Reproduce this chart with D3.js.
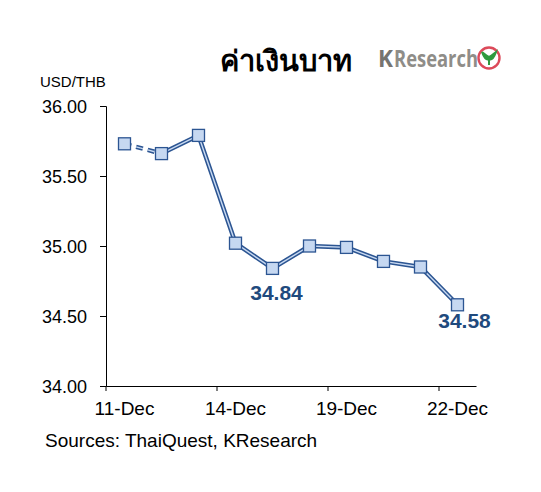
<!DOCTYPE html>
<html>
<head>
<meta charset="utf-8">
<script src="https://cdn.jsdelivr.net/npm/d3@7"></script>
<style>
  body { margin: 0; background: #fff; }
  text { font-family: Arial, "Liberation Sans", sans-serif; }
</style>
</head>
<body>
<div id="chart"></div>
<script>
// data
var dates = ["11-Dec", "12-Dec", "13-Dec", "14-Dec", "15-Dec", "18-Dec", "19-Dec", "20-Dec", "21-Dec", "22-Dec"];
var rates = [35.73, 35.66, 35.79, 35.02, 34.84, 35.00, 34.99, 34.89, 34.85, 34.58];
var xTickLabels = ["11-Dec", "14-Dec", "19-Dec", "22-Dec"];
var yTicks = [34.0, 34.5, 35.0, 35.5, 36.0];
var callouts = [{ i: 4, dx: 4, dy: 32 }, { i: 9, dx: 7, dy: 23 }];

var width = 541, height = 492;
var svg = d3.select("#chart").append("svg")
    .attr("width", width)
    .attr("height", height);

var x = d3.scaleBand().domain(dates).range([106, 476]).paddingInner(0).paddingOuter(0);
var y = d3.scaleLinear().domain([34, 36]).range([386, 106]);
var bw = x.bandwidth();

// title + logo
svg.append("text")
    .attr("x", 286).attr("y", 71)
    .attr("text-anchor", "middle")
    .style("font-family", "'Noto Sans', 'DejaVu Sans', sans-serif")
    .style("font-weight", "bold")
    .style("font-size", "29px")
    .text("ค่าเงินบาท");

var logo = svg.append("g").attr("transform", "translate(378,67)");
logo.append("text")
    .attr("x", 0).attr("y", 0)
    .style("font-family", "'Open Sans', Arial, sans-serif")
    .style("font-size", "24px")
    .style("font-weight", "bold")
    .style("fill", "#767470")
    .attr("textLength", 15)
    .attr("lengthAdjust", "spacingAndGlyphs")
    .text("K");
logo.append("text")
    .attr("x", 16).attr("y", 0)
    .style("font-family", "'Open Sans', Arial, sans-serif")
    .style("font-size", "24px")
    .style("font-weight", "bold")
    .style("fill", "#8f8d88")
    .attr("textLength", 84)
    .attr("lengthAdjust", "spacingAndGlyphs")
    .text("Research");
logo.append("circle").attr("cx", 111).attr("cy", -9).attr("r", 10.5)
    .attr("fill", "#fff").attr("stroke", "#dc4a5a").attr("stroke-width", 2.4);
logo.append("path")
    .attr("d", "M104,-15 Q107,-6 111,-8 Q115,-6 118,-15 Q113,-11 111,-10 Q109,-11 104,-15 M111,-9 L111,-2")
    .attr("fill", "#2e9a3e").attr("stroke", "#2e9a3e").attr("stroke-width", 2);

// unit label
svg.append("text")
    .attr("x", 40).attr("y", 87)
    .style("font-size", "15px")
    .text("USD/THB");

// y axis
var yAxis = svg.append("g")
    .attr("transform", "translate(106,0)")
    .call(d3.axisLeft(y).tickValues(yTicks).tickSize(6).tickPadding(13).tickFormat(d3.format(".2f")));
yAxis.selectAll("text").style("font-size", "18px").style("fill", "#000").attr("dy", "0.35em");
yAxis.selectAll("line, path").attr("stroke", "#000");

// x axis: ticks on category boundaries, labels on category centres
var xAxis = svg.append("g")
    .attr("transform", "translate(0,386)")
    .call(d3.axisBottom(x).tickValues(xTickLabels).tickSize(5).tickPadding(11).tickSizeOuter(0));
xAxis.selectAll(".tick line").attr("transform", "translate(" + (-bw / 2) + ",0)");
xAxis.selectAll("text").style("font-size", "19px").style("fill", "#000");
xAxis.selectAll("line, path").attr("stroke", "#000");

var pts = dates.map(function(d, i) { return { x: x(d) + bw / 2, y: y(rates[i]), v: rates[i] }; });
var line = d3.line().x(function(d) { return d.x; }).y(function(d) { return d.y; });

// first segment dashed, rest solid double line
var first = pts.slice(0, 2), rest = pts.slice(1);
svg.append("path").attr("d", line(first)).attr("fill", "none")
    .attr("stroke", "#2c5592").attr("stroke-width", 4.5).attr("stroke-dasharray", "7,5");
svg.append("path").attr("d", line(first)).attr("fill", "none")
    .attr("stroke", "#c9daf2").attr("stroke-width", 1.4).attr("stroke-dasharray", "7,5");
svg.append("path").attr("d", line(rest)).attr("fill", "none")
    .attr("stroke", "#2c5592").attr("stroke-width", 4.5).attr("stroke-linejoin", "round");
svg.append("path").attr("d", line(rest)).attr("fill", "none")
    .attr("stroke", "#c9daf2").attr("stroke-width", 1.4).attr("stroke-linejoin", "round");

// markers
svg.selectAll(".mk").data(pts).enter().append("rect")
    .attr("class", "mk")
    .attr("x", function(d) { return d.x - 6; })
    .attr("y", function(d) { return d.y - 6; })
    .attr("width", 12).attr("height", 12)
    .attr("fill", "#c6d8f1")
    .attr("stroke", "#2c5592")
    .attr("stroke-width", 1.3);

// value callouts
svg.selectAll(".lbl").data(callouts).enter().append("text")
    .attr("class", "lbl")
    .attr("x", function(d) { return pts[d.i].x + d.dx; })
    .attr("y", function(d) { return pts[d.i].y + d.dy; })
    .attr("text-anchor", "middle")
    .style("font-size", "21px")
    .style("font-weight", "bold")
    .style("fill", "#1f4a7d")
    .text(function(d) { return pts[d.i].v.toFixed(2); });

// source
svg.append("text")
    .attr("x", 45).attr("y", 447)
    .style("font-size", "19px")
    .text("Sources: ThaiQuest, KResearch");
</script>
</body>
</html>
